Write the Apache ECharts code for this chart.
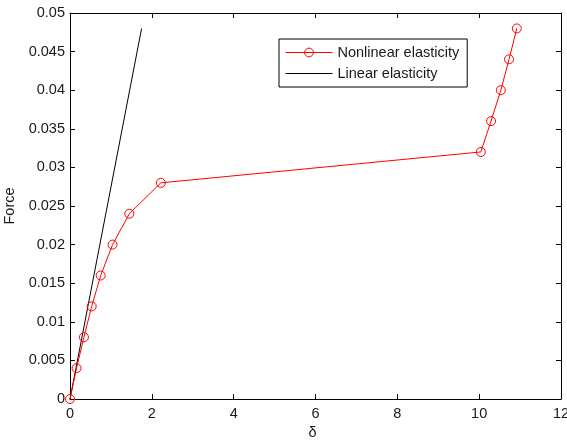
<!DOCTYPE html>
<html>
<head>
<meta charset="utf-8">
<script src="https://cdn.jsdelivr.net/npm/echarts@6/dist/echarts.min.js"></script>
<style>
  html, body { margin: 0; padding: 0; background: #fff; }
  #chart { width: 567px; height: 441px; }
</style>
</head>
<body>
<div id="chart"></div>
<script>
// Displacement (δ) and force for the nonlinear elastic response
const nonlinearDelta = [0, 0.16, 0.34, 0.53, 0.75, 1.04, 1.45, 2.22, 10.04, 10.29, 10.53, 10.73, 10.92];
const nonlinearForce = [0, 0.004, 0.008, 0.012, 0.016, 0.020, 0.024, 0.028, 0.032, 0.036, 0.040, 0.044, 0.048];

// Linear elastic reference line
const linearDelta = [0, 1.75];
const linearForce = [0, 0.048];

const xTicks = [0, 2, 4, 6, 8, 10, 12];
const yTicks = [0, 0.005, 0.01, 0.015, 0.02, 0.025, 0.03, 0.035, 0.04, 0.045, 0.05];

const FONT = 'Liberation Sans, Arial, sans-serif';
const TXT = '#1a1a1a';
const AX = '#000';

const pairs = (xs, ys) => xs.map((x, i) => [x, ys[i]]);

const chart = echarts.init(document.getElementById('chart'), null, { renderer: 'canvas' });

const baseX = {
  type: 'value', min: xTicks[0], max: xTicks[xTicks.length - 1], interval: 2,
  axisLine: { show: true, onZero: false, lineStyle: { color: AX, width: 1 } },
  axisTick: { show: true, inside: true, length: 5, lineStyle: { color: AX } },
  splitLine: { show: false }
};
const baseY = {
  type: 'value', min: yTicks[0], max: yTicks[yTicks.length - 1], interval: 0.005,
  axisLine: { show: true, onZero: false, lineStyle: { color: AX, width: 1 } },
  axisTick: { show: true, inside: true, length: 5, lineStyle: { color: AX } },
  splitLine: { show: false }
};

chart.setOption({
  animation: false,
  backgroundColor: '#fff',
  textStyle: { fontFamily: FONT },
  grid: { left: 70, right: 6, top: 13, bottom: 42, containLabel: false, outerBoundsMode: 'none' },
  legend: {
    orient: 'vertical',
    left: 279, top: 39,
    padding: [6, 8, 6, 6],
    itemWidth: 47, itemHeight: 11, itemGap: 6,
    borderColor: '#000', borderWidth: 1, backgroundColor: '#fff',
    lineStyle: { width: 1 },
    itemStyle: { borderWidth: 1 },
    textStyle: { fontFamily: FONT, fontSize: 14.5, color: TXT, width: 128 },
    data: ['Nonlinear elasticity', 'Linear elasticity']
  },
  xAxis: [
    Object.assign({}, baseX, {
      position: 'bottom',
      name: 'δ', nameLocation: 'middle', nameGap: 26,
      nameTextStyle: { fontFamily: FONT, fontSize: 14.5, color: TXT, verticalAlign: 'top', padding: [0, 6, 0, 0] },
      axisLabel: { show: true, margin: 7, fontFamily: FONT, fontSize: 14.5, color: TXT }
    }),
    Object.assign({}, baseX, { position: 'top', axisLabel: { show: false } })
  ],
  yAxis: [
    Object.assign({}, baseY, {
      position: 'left',
      name: 'Force', nameLocation: 'middle', nameGap: 49,
      nameTextStyle: { fontFamily: FONT, fontSize: 14.5, color: TXT },
      axisLabel: {
        show: true, margin: 5, fontFamily: FONT, fontSize: 14.5, color: TXT,
        formatter: v => String(parseFloat(v.toFixed(3)))
      }
    }),
    Object.assign({}, baseY, { position: 'right', axisLabel: { show: false } })
  ],
  series: [
    {
      name: 'Nonlinear elasticity',
      type: 'line',
      data: pairs(nonlinearDelta, nonlinearForce),
      symbol: 'circle', symbolSize: 9, showSymbol: true,
      lineStyle: { color: '#ff0000', width: 1 },
      itemStyle: { color: 'rgba(255,255,255,0)', borderColor: '#ff0000', borderWidth: 1 },
      emphasis: { disabled: true },
      z: 3
    },
    {
      name: 'Linear elasticity',
      type: 'line',
      data: pairs(linearDelta, linearForce),
      symbol: 'circle', showSymbol: false,
      lineStyle: { color: '#000', width: 1 },
      itemStyle: { color: 'rgba(0,0,0,0)', borderWidth: 0 },
      emphasis: { disabled: true },
      z: 2
    }
  ]
});
</script>
</body>
</html>
